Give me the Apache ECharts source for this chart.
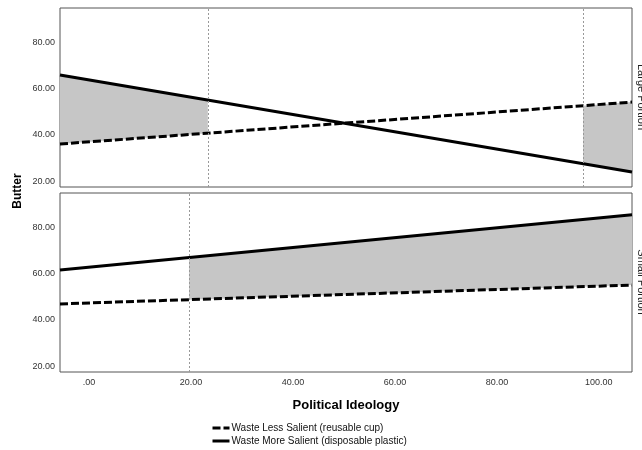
<!DOCTYPE html>
<html><head><meta charset="utf-8">
<script src="https://cdn.jsdelivr.net/npm/echarts@6/dist/echarts.min.js"></script>
<style>html,body{margin:0;padding:0;background:#fff}#c{width:642px;height:450px}</style>
</head><body><div id="c"></div>
<script>
// ---- data ----
const xRange = [-5.7, 106.5];
const xTicks = [0, 20, 40, 60, 80, 100];
const yTicks = [20, 40, 60, 80];
const seriesNames = ['Waste Less Salient (reusable cup)', 'Waste More Salient (disposable plastic)'];
const panelNames = ['Large Portion', 'Small Portion'];
// line endpoints at xRange ends
const largeLess = [36.1, 54.3];
const largeMore = [66.1, 23.9];
const smallLess = [47.0, 55.2];
const smallMore = [61.7, 85.7];
// Johnson-Neyman boundaries
const jnLarge = [23.3, 96.9];
const jnSmall = [19.6];
// shaded regions of significance (polygon vertices: x, Butter)
const shadeLargeLeft = [[-5.7, 36.1], [23.3, 40.8], [23.3, 55.2], [-5.7, 66.1]];
const shadeLargeRight = [[96.9, 52.7], [106.5, 54.3], [106.5, 23.9], [96.9, 27.5]];
const shadeSmall = [[19.6, 48.8], [106.5, 55.2], [106.5, 85.7], [19.6, 67.1]];

const FONT = 'Liberation Sans, Arial, sans-serif';
const chart = echarts.init(document.getElementById('c'), null, {renderer: 'canvas'});

function pts(vals) { return xRange.map((x, i) => [x, vals[i]]); }
function poly(points, idx) {
  return {
    type: 'custom', xAxisIndex: idx, yAxisIndex: idx, z: 1, silent: true,
    data: points, encode: {x: 0, y: 1},
    renderItem: function (params, api) {
      if (params.dataIndex !== 0) return;
      return {type: 'polygon', shape: {points: points.map(p => api.coord(p))},
              style: {fill: '#c6c6c6', stroke: null}};
    }
  };
}
function lineSeries(name, vals, idx, dashed, jn) {
  const s = {
    name: name, type: 'line', xAxisIndex: idx, yAxisIndex: idx, z: 3,
    data: pts(vals), symbol: 'none', silent: true, animation: false,
    lineStyle: {color: '#000', width: 3, type: dashed ? [8, 3] : 'solid'},
    itemStyle: {color: '#000'}
  };
  if (jn) {
    s.markLine = {
      silent: true, symbol: 'none', label: {show: false}, animation: false,
      lineStyle: {color: '#999', width: 1, type: [2, 2]},
      data: jn.map(x => ({xAxis: x}))
    };
  }
  return s;
}
function yAxis(idx) {
  return {
    type: 'value', gridIndex: idx, min: 17.4, max: 95.2,
    axisLine: {show: false}, axisTick: {show: false}, splitLine: {show: false},
    axisLabel: {customValues: yTicks, formatter: v => v.toFixed(2), fontFamily: FONT,
                fontSize: 9, color: '#333', margin: 5}
  };
}
function xAxis(idx, showLabels) {
  return {
    type: 'value', gridIndex: idx, min: xRange[0], max: xRange[1],
    axisLine: {show: false}, axisTick: {show: false}, splitLine: {show: false},
    axisLabel: {show: showLabels, customValues: xTicks,
                formatter: v => (v === 0 ? '.00' : v.toFixed(2)), fontFamily: FONT,
                fontSize: 9, color: '#333', margin: 6}
  };
}

chart.setOption({
  animation: false,
  grid: [
    {left: 60, right: 10, top: 8, height: 179, show: true, borderColor: '#555', borderWidth: 1},
    {left: 60, right: 10, top: 193, height: 179, show: true, borderColor: '#555', borderWidth: 1}
  ],
  xAxis: [xAxis(0, false), xAxis(1, true)],
  yAxis: [yAxis(0), yAxis(1)],
  legend: {
    orient: 'vertical', left: 211, top: 423, height: 27, padding: 0, itemGap: 3,
    itemWidth: 17, itemHeight: 10, data: seriesNames, selectedMode: false,
    itemStyle: {opacity: 0}, lineStyle: {width: 3},
    textStyle: {fontFamily: FONT, fontSize: 10, color: '#111', padding: [0, 0, 0, -3]}
  },
  graphic: [
    {type: 'text', x: 18, y: 191, rotation: Math.PI / 2,
     style: {text: 'Butter', font: 'bold 12px ' + FONT, fill: '#000', align: 'center', verticalAlign: 'middle'}},
    {type: 'text', x: 346, y: 405,
     style: {text: 'Political Ideology', font: 'bold 13px ' + FONT, fill: '#000', align: 'center', verticalAlign: 'middle'}},
    {type: 'text', x: 641, y: 97, rotation: -Math.PI / 2,
     style: {text: panelNames[0], font: '11px ' + FONT, fill: '#222', align: 'center', verticalAlign: 'middle'}},
    {type: 'text', x: 641, y: 282, rotation: -Math.PI / 2,
     style: {text: panelNames[1], font: '11px ' + FONT, fill: '#222', align: 'center', verticalAlign: 'middle'}}
  ],
  series: [
    poly(shadeLargeLeft, 0), poly(shadeLargeRight, 0), poly(shadeSmall, 1),
    lineSeries(seriesNames[0], largeLess, 0, true, null),
    lineSeries(seriesNames[1], largeMore, 0, false, jnLarge),
    lineSeries(seriesNames[0], smallLess, 1, true, null),
    lineSeries(seriesNames[1], smallMore, 1, false, jnSmall)
  ]
});
</script>
</body></html>
